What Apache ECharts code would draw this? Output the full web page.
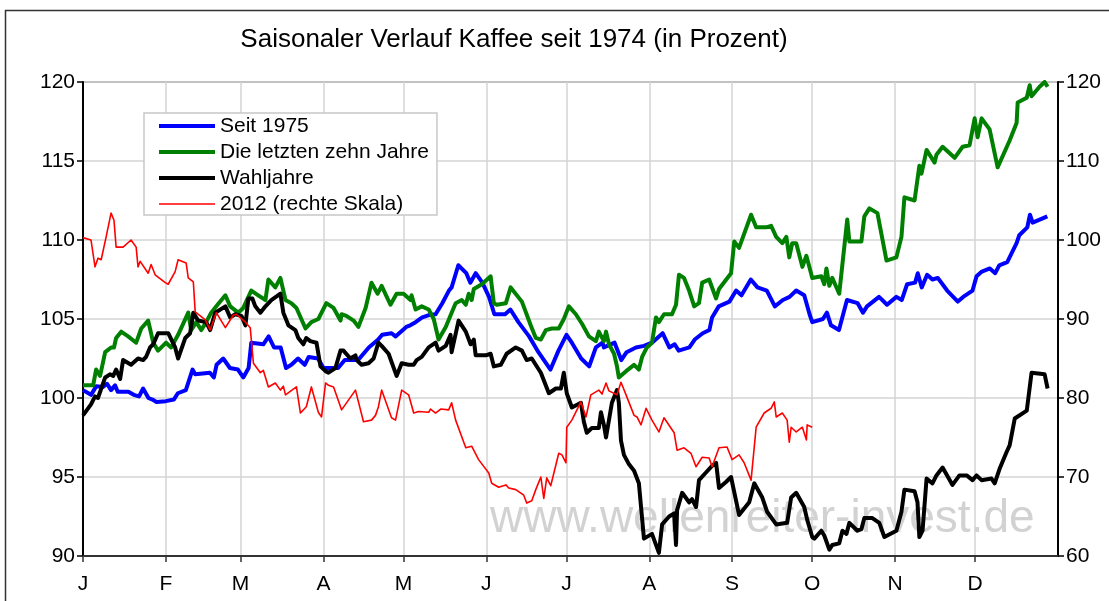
<!DOCTYPE html>
<html>
<head>
<meta charset="utf-8">
<script src="https://cdn.jsdelivr.net/npm/echarts@6/dist/echarts.min.js"></script>
<style>
  html, body { margin: 0; padding: 0; background: #fff; }
  #chart { width: 1109px; height: 601px; }
</style>
</head>
<body>
<div id="chart"></div>
<script>
// ---- Data (x = day of year, y = percent) ----
const titleText = 'Saisonaler Verlauf Kaffee seit 1974 (in Prozent)';
const monthStarts = [0, 31, 59, 90, 120, 151, 181, 212, 243, 273, 304, 334];
const monthLabels = ['J', 'F', 'M', 'A', 'M', 'J', 'J', 'A', 'S', 'O', 'N', 'D'];
const seriesNames = ['Seit 1975', 'Die letzten zehn Jahre', 'Wahljahre', '2012 (rechte Skala)'];

const seit1975 = [
  [0,100.5],[3,100.2],[5,100.75],[7.5,100.7],[9,100.9],[10.5,100.5],[12,100.8],[13,100.4],[17,100.4],[19,100.2],
  [21,100.1],[22.5,100.6],[24.5,100.0],[26,99.9],[27.5,99.75],[31,99.8],[34,99.9],[35.5,100.3],[38.5,100.5],[41,101.8],
  [42,101.5],[47.5,101.6],[49,101.3],[50,102.1],[52.5,102.5],[55,101.9],[58,101.8],[60,101.3],[62,101.9],[63,103.5],
  [67.5,103.4],[69.5,103.9],[71.5,103.2],[74,103.2],[76,101.9],[78,102.1],[80.5,102.5],[83,102.1],[84.5,102.6],[88,102.5],
  [90,101.9],[92,101.9],[95.5,101.9],[98,102.4],[103,102.4],[107,103.2],[110.5,103.7],[112,104.0],[115.5,104.1],[117,103.9],
  [121,104.5],[122.5,104.6],[124.5,104.8],[127,105.1],[129.5,105.25],[132,105.3],[134.5,106.0],[137,106.8],[138,107.0],[140.5,108.4],
  [143.5,107.9],[145,107.3],[147,107.9],[149.5,107.3],[152,106.4],[154,105.3],[158,105.3],[160,105.6],[163,104.8],[167,103.9],
  [170.5,102.9],[175,101.8],[178,103.0],[181,104.0],[183,103.5],[186.5,102.5],[189.5,102.0],[192,103.2],[194.5,103.5],[195,103.2],
  [199,103.5],[201.5,102.4],[203.5,102.9],[207,103.2],[210,103.3],[213,103.5],[217,104.1],[219.5,103.2],[221.5,103.4],[223,103.0],
  [227,103.2],[229,103.7],[232,104.1],[234.5,104.3],[235.5,105.1],[238,105.8],[242,106.1],[244.5,106.8],[246.5,106.5],[250,107.5],
  [252.5,107.0],[256,106.8],[259,105.8],[262,106.2],[264.5,106.4],[267,106.8],[270,106.5],[272,105.3],[273,104.8],[277,105.0],
  [278.5,105.4],[280,104.6],[283,104.3],[286,106.2],[290,106.0],[292,105.4],[293.5,105.8],[298,106.4],[301,105.9],[304.5,106.4],
  [306.5,106.2],[308.5,107.2],[311.5,107.3],[312.5,107.9],[314,107.0],[316,107.8],[318,107.5],[320,107.6],[323.5,106.8],[327.5,106.1],
  [329.5,106.4],[333,106.8],[334.5,107.7],[336.5,108.0],[339.5,108.2],[341.5,107.9],[343,108.4],[346,108.6],[349.5,109.8],[350.5,110.3],
  [353.5,110.8],[354.5,111.6],[355.5,111.1],[361,111.5]
];

const letzteZehnJahre = [
  [0,100.8],[3.8,100.8],[4.9,101.8],[6.4,101.4],[8.3,102.9],[10.5,103.2],[11.6,103.2],[12.4,103.8],[14.3,104.2],[16.9,103.9],
  [19.9,103.5],[21.8,104.4],[24.4,104.9],[26.3,103.5],[28.1,103.0],[31.1,103.5],[33,103.2],[35.6,104.0],[39.4,105.4],[40.5,104.3],
  [42.4,104.8],[44.3,104.3],[46.1,104.8],[48,105.4],[49.9,105.8],[53.3,106.5],[55.1,105.8],[58.1,105.4],[60,105.7],[63,106.8],
  [65.6,106.5],[68.3,106.2],[69.4,107.5],[72,107.0],[73.9,107.6],[75.8,106.2],[78,106.0],[79.9,105.7],[83.3,104.4],[85.5,104.8],
  [88.1,105.0],[91.1,106.0],[93.8,105.7],[96.4,104.9],[96.8,105.3],[98.6,105.2],[101.3,104.9],[103.1,104.5],[105.8,105.7],[108,107.3],
  [110.3,106.6],[111.8,107.1],[115.1,105.9],[117.4,106.6],[120,106.6],[122.6,106.2],[123,106.5],[124.5,105.6],[126.8,105.8],[129.4,105.6],
  [131.3,105.0],[133.1,103.7],[135.8,104.5],[138,105.4],[139.5,106.0],[141.8,106.2],[143.3,105.9],[144.4,106.6],[145.5,106.2],[146.3,106.9],
  [149.3,107.2],[152.6,107.7],[153.8,106.0],[154.9,105.9],[158.3,106.0],[160.1,107.0],[164.3,106.1],[167.6,104.6],[169.5,103.8],[171.4,103.7],
  [173.3,104.3],[175.5,104.4],[178.1,104.4],[180,105.0],[181.9,105.8],[184.5,105.3],[186.8,104.7],[189.4,103.9],[192,103.6],[193.1,104.2],
  [195,103.6],[195.8,104.2],[196.9,103.4],[198.8,102.8],[199.9,102.0],[200.6,101.3],[203.3,101.7],[206.3,102.1],[208.1,101.8],[209.3,102.6],
  [211.1,103.2],[213,103.5],[214.5,105.1],[215.6,104.8],[217.5,105.3],[220.5,105.3],[222,105.9],[223.1,107.8],[225,107.6],[226.9,106.8],
  [228.8,105.8],[230.6,106.0],[231.8,107.3],[234.4,107.5],[237,106.3],[238.1,106.9],[242.6,107.9],[243.8,109.9],[245.6,109.5],[250.1,111.6],
  [252,110.8],[255.8,110.8],[257.6,110.9],[259.5,110.2],[261.8,109.8],[263.3,110.2],[264.4,108.9],[265.5,109.8],[267,109.8],[269.3,108.3],
  [270.8,109.0],[271.9,108.3],[273,107.6],[276.4,107.7],[277.5,107.2],[278.3,108.2],[279.4,107.1],[280.5,107.6],[283.1,106.6],[286.1,111.3],
  [286.9,109.9],[291.4,109.9],[292.5,111.5],[294.4,112.0],[297.4,111.7],[300.8,108.7],[304.5,108.9],[306.4,110.2],[307.5,112.7],[311.3,112.5],
  [313.1,114.7],[313.9,114.2],[315.8,115.7],[318.8,114.9],[319.5,115.4],[321.8,115.9],[326.3,115.2],[329.3,115.9],[331.9,116.0],[333.8,117.7],
  [334.9,116.5],[336.4,117.7],[339.4,117.0],[342.4,114.6],[346.9,116.3],[349.5,117.4],[349.9,118.7],[353.3,119.0],[354.4,119.8],[355.1,119.1],
  [358.1,119.7],[360,120.0],[361.1,119.7]
];

const wahljahre = [
  [0,98.9],[3,99.6],[4.5,100.1],[5.6,100.0],[8.3,101.3],[10.1,101.5],[11.3,101.4],[12.4,101.8],[13.9,101.2],[15,102.4],
  [18,102.1],[20.6,102.5],[22.5,102.4],[23.6,102.6],[25.1,103.2],[26.3,103.4],[28.1,104.1],[30,104.1],[31.9,104.1],[34.5,103.2],
  [35.6,102.5],[38.3,103.8],[40.1,104.1],[41.3,105.4],[43.1,104.9],[46.1,104.8],[47.6,104.3],[49.5,105.4],[53.3,105.8],[55.1,105.1],
  [57,105.3],[59.3,105.2],[60.8,104.6],[61.9,106.3],[63.4,106.3],[64.5,105.8],[66.4,105.4],[68.3,105.8],[70.5,106.2],[73.9,106.6],
  [75,105.4],[76.9,104.6],[79.5,104.3],[80.6,103.8],[82.5,103.4],[83.6,103.8],[85.1,103.6],[87.4,103.5],[88.9,102.0],[90.8,101.7],
  [91.9,101.6],[94.5,101.9],[96.4,103.0],[97.5,103.0],[100.1,102.5],[102,102.7],[102.4,102.4],[104.3,102.1],[106.9,102.2],[108.8,102.5],
  [110.6,103.5],[111.8,103.3],[114.4,102.8],[117.4,101.4],[119.3,102.2],[121.9,102.1],[123.8,102.1],[124.9,102.4],[126.8,102.6],[129.4,103.2],
  [132,103.5],[133.1,103.0],[135.8,103.3],[137.6,104.0],[138,102.9],[140.6,104.9],[143.3,104.2],[145.1,103.4],[146.3,103.7],[147,102.7],
  [150.8,102.7],[152.6,102.8],[153.8,102.0],[156.4,102.1],[158.6,102.8],[162,103.2],[164.3,103.0],[166.1,102.4],[168,102.5],[171.4,101.6],
  [174.4,100.3],[177,100.6],[178.9,100.6],[180,101.6],[181.1,100.3],[183,99.4],[186.4,99.7],[187.5,98.5],[188.6,97.8],[190.5,98.1],
  [193.1,98.1],[193.9,99.1],[195,98.3],[195.8,97.5],[198,99.7],[199.9,100.5],[200.6,99.7],[201.4,97.3],[202.5,96.4],[204.4,95.8],
  [206.3,95.4],[208.1,94.6],[210,91.1],[213,91.4],[215.6,90.2],[216.8,92.0],[219.4,92.5],[221.3,92.7],[222,90.7],[222.4,92.9],
  [224.3,94.0],[226.9,93.4],[228,93.6],[229.5,93.1],[230.6,94.8],[233.3,95.3],[235.5,95.7],[237,95.9],[238.1,94.3],[240.8,94.7],
  [242.6,95.0],[245.6,92.6],[249.4,93.4],[251.3,94.6],[254.3,93.7],[256.1,92.8],[259.5,92.0],[263.6,92.1],[265.1,93.7],[267,94.0],
  [270,93.1],[271.1,92.3],[273,91.2],[273.8,91.1],[276.4,91.6],[277.5,91.3],[279.4,90.4],[280.5,90.7],[283.1,90.8],[284.3,91.6],
  [285.8,91.4],[286.9,92.1],[289.9,91.6],[291.4,91.7],[292.5,92.4],[295.5,92.4],[298.1,92.1],[300,91.2],[304.5,91.6],[306.4,92.8],
  [307.5,94.2],[311.3,94.1],[312.4,93.4],[313.1,91.2],[314.3,91.6],[315.8,94.9],[318,94.6],[319.5,95.1],[321.8,95.6],[325.5,94.5],
  [328.1,95.1],[330.8,95.1],[333,94.8],[334.5,95.1],[336.4,94.8],[340.1,94.9],[341.3,94.6],[343.1,95.5],[345.8,96.6],[346.9,97.0],
  [348.8,98.7],[353.3,99.2],[355.1,101.6],[360,101.5],[361.1,100.6]
];

const jahr2012 = [
  [0,100.3],[3,100.0],[4.5,96.6],[5.6,97.7],[6.8,97.5],[8.6,100.3],[10.5,103.4],[11.6,102.5],[12.4,99.1],[15,99.1],
  [18,100.0],[19.9,99.1],[20.6,96.6],[21.4,97.3],[24.4,95.8],[25.5,96.9],[27,95.6],[30.8,94.6],[31.9,94.4],[34.5,96.0],
  [35.6,97.5],[38.6,97.1],[39.4,95.2],[41.3,94.7],[42,90.9],[45.8,89.9],[47.6,88.6],[49.9,90.8],[53.3,88.9],[56.3,90.5],
  [57.4,90.6],[60.8,89.6],[62.6,88.9],[63.8,84.4],[66.4,83.2],[67.5,83.5],[69.4,81.4],[72,81.9],[73.9,81.0],[75,81.5],
  [75.8,80.4],[79.9,81.4],[81.4,78.1],[83.6,78.9],[85.5,81.4],[88.1,78.2],[89.3,77.6],[90.8,81.9],[91.9,81.6],[93.8,81.4],
  [96.8,78.5],[102,81.0],[105,77.0],[108,77.2],[109.5,77.8],[110.6,78.9],[111.8,81.0],[115.5,77.5],[117,77.2],[119.3,81.0],
  [121.9,80.4],[123.8,78.1],[125.6,78.3],[129.4,78.2],[130.1,78.6],[132,78.1],[133.9,78.6],[136.9,78.5],[138,79.4],[139.5,77.2],
  [143.3,73.7],[145.5,73.9],[148.1,72.2],[151.9,70.5],[153,69.2],[155.6,68.7],[158.3,69.0],[159.4,68.6],[162,68.4],[165,67.7],
  [166.1,66.7],[168,67.0],[169.5,68.4],[171.4,70.0],[172.5,67.3],[173.6,69.9],[175.1,68.9],[178.1,73.0],[179.3,72.8],[180.8,71.8],
  [181.1,76.3],[183,77.2],[186.4,79.5],[188.3,77.6],[190.1,80.4],[193.1,81.0],[194.3,80.5],[195.8,81.9],[196.9,80.9],[199.9,80.4],
  [201.4,82.0],[203.3,80.4],[206.3,77.8],[207.4,77.6],[208.9,76.6],[210.8,78.7],[213,77.2],[215.6,75.7],[217.5,77.5],[221.3,75.6],
  [222.4,73.4],[225,73.7],[227.6,73.0],[229.5,71.3],[231.8,72.5],[234.4,72.4],[235.5,71.3],[238.1,73.7],[241.1,73.8],[243,72.2],
  [245.6,72.8],[247.5,71.8],[250.1,69.6],[252,76.3],[255,78.1],[257.6,78.7],[258.8,79.5],[259.5,77.6],[261.8,78.1],[263.6,77.2],
  [264.4,74.4],[265.1,76.3],[267,75.7],[269.3,76.3],[270.8,74.7],[271.1,76.6],[273,76.3]
];

const leftTicks = { min: 90, max: 120, interval: 5 };
const rightTicks = { min: 60, max: 120, interval: 10 };
const watermarkText = 'www.wellenreiter-invest.de';

// ---- Chart ----
const chart = echarts.init(document.getElementById('chart'), null, { renderer: 'canvas' });
const FONT = 'Liberation Sans, Arial, sans-serif';
const colors = ['#0000ff', '#008000', '#000000', '#ff0000'];
const widths = [4, 4, 4, 1.6];
const dataSets = [seit1975, letzteZehnJahre, wahljahre, jahr2012];

chart.setOption({
  animation: false,
  backgroundColor: '#ffffff',
  title: {
    text: titleText,
    left: 509, top: 22, textAlign: 'center',
    textStyle: { fontFamily: FONT, fontSize: 26, fontWeight: 'normal', color: '#000' }
  },
  graphic: [
    { type: 'rect', left: 3, top: 8, z: -10, silent: true,
      shape: { width: 1120, height: 620 },
      style: { fill: 'none', stroke: '#333', lineWidth: 1.5 } },
    { type: 'text', left: 490, top: 496, z: 0, silent: true,
      style: { text: watermarkText, fontFamily: FONT, fontSize: 46, fill: '#d2d2d2' } }
  ],
  legend: {
    orient: 'vertical', left: 144, top: 113,
    itemWidth: 56, itemHeight: 14, itemGap: 4,
    padding: [2, 8, 0, 13],
    backgroundColor: '#fff',
    borderColor: '#c8c8c8', borderWidth: 1.5,
    textStyle: { fontFamily: FONT, fontSize: 21, color: '#000', lineHeight: 22 },
    data: seriesNames.map(function (n, i) {
      return { name: n, itemStyle: { opacity: 0 }, lineStyle: { width: widths[i], color: colors[i] } };
    })
  },
  grid: {
    left: 83, right: 51, top: 82, bottom: 45,
    show: true, borderColor: '#666', borderWidth: 1.5, backgroundColor: 'transparent'
  },
  xAxis: {
    type: 'value', min: 0, max: 365,
    axisLine: { show: true, lineStyle: { color: '#333', width: 2 } },
    axisTick: { show: true, length: 6, lineStyle: { color: '#333', width: 1.5 }, customValues: monthStarts },
    axisLabel: {
      customValues: monthStarts, margin: 18,
      fontFamily: FONT, fontSize: 21, color: '#000',
      formatter: function (v) { const i = monthStarts.indexOf(v); return i >= 0 ? monthLabels[i] : ''; }
    },
    splitLine: { show: true, lineStyle: { color: '#d4d4d4', width: 1.5 } }
  },
  yAxis: [
    {
      type: 'value', position: 'left', min: leftTicks.min, max: leftTicks.max, interval: leftTicks.interval,
      axisLine: { show: true, lineStyle: { color: '#000', width: 2 } },
      axisTick: { show: true, length: 6, lineStyle: { color: '#000', width: 1.5 } },
      axisLabel: { margin: 8, fontFamily: FONT, fontSize: 21, color: '#000' },
      splitLine: { show: true, lineStyle: { color: '#d4d4d4', width: 1.5 } }
    },
    {
      type: 'value', position: 'right', min: rightTicks.min, max: rightTicks.max, interval: rightTicks.interval,
      axisLine: { show: true, lineStyle: { color: '#000', width: 2 } },
      axisTick: { show: true, length: 6, lineStyle: { color: '#000', width: 1.5 } },
      axisLabel: { margin: 8, fontFamily: FONT, fontSize: 21, color: '#000' },
      splitLine: { show: false }
    }
  ],
  series: seriesNames.map(function (name, i) {
    return {
      name: name, type: 'line', data: dataSets[i],
      yAxisIndex: i === 3 ? 1 : 0,
      symbol: 'none', showSymbol: false, smooth: false,
      color: colors[i],
      lineStyle: { color: colors[i], width: widths[i], join: 'round' },
      z: 2 + i
    };
  })
});
</script>
</body>
</html>
